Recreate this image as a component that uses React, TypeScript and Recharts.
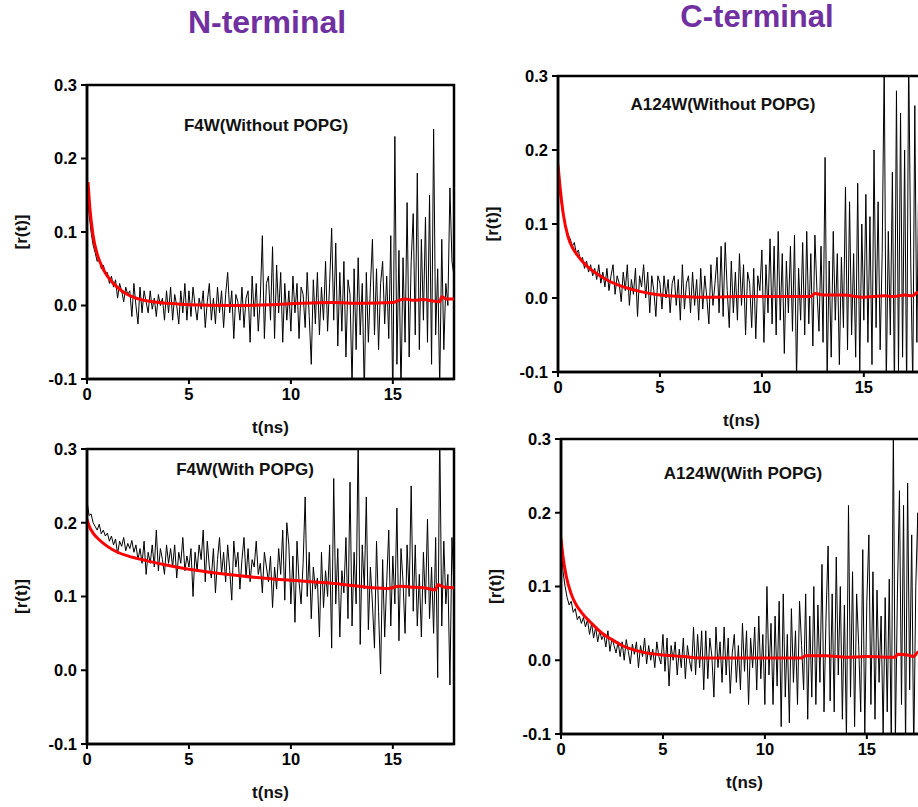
import { LineChart, Line, XAxis, YAxis, ReferenceArea } from 'recharts'

const STEP = 0.1

const f4wWithoutNoise = [
  0.165, 0.125, 0.1, 0.082, 0.072, 0.06, 0.065, 0.05, 0.055, 0.045,
  0.045, 0.03, 0.04, 0.025, 0.035, 0.01, 0.03, 0.02, 0.005, 0.025,
  0.015, 0.02, -0.015, 0.03, 0.0, -0.025, 0.025, -0.01, 0.02, 0.005,
  -0.01, 0.02, -0.005, 0.01, -0.015, 0.015, 0.0, 0.01, -0.02, 0.02,
  -0.01, 0.025, -0.02, 0.015, 0.0, -0.025, 0.02, -0.01, 0.03, -0.02,
  0.02, -0.015, 0.025, 0.0, -0.02, 0.01, -0.005, 0.02, -0.03, 0.005,
  0.03, -0.02, 0.01, -0.025, 0.025, -0.01, 0.02, -0.03, 0.015, 0.045,
  -0.01, 0.02, -0.045, 0.015, 0.005, -0.02, 0.025, -0.03, 0.01, 0.02,
  -0.05, 0.04, -0.015, 0.03, -0.035, 0.01, 0.095, -0.045, 0.03, 0.04,
  -0.02, 0.08, -0.045, 0.055, -0.01, 0.045, -0.05, 0.03, -0.02, 0.02,
  -0.035, 0.04, -0.01, 0.03, -0.045, 0.025, 0.015, -0.03, 0.045, -0.015,
  -0.08, 0.035, -0.025, 0.045, -0.04, 0.025, -0.02, 0.06, -0.035, 0.03,
  0.105, -0.02, 0.085, -0.055, 0.045, -0.035, 0.06, -0.07, 0.035, 0.015,
  -0.11, 0.05, -0.06, 0.065, -0.04, 0.03, -0.12, 0.045, -0.05, 0.025,
  0.09, -0.04, 0.05, -0.06, 0.03, 0.06, -0.025, 0.04, -0.045, 0.095,
  -0.14, 0.23, -0.08, 0.075, -0.12, 0.065, -0.05, 0.14, -0.07, 0.06,
  0.125, -0.04, 0.18, -0.06, 0.09, -0.02, 0.12, -0.05, 0.15, -0.08,
  0.24, -0.04, 0.05, -0.11, 0.09, -0.06, 0.03, 0.0, 0.16, 0.06,
  0.04,
]
const f4wWithoutFitT = [0.05, 0.15, 0.3, 0.5, 0.75, 1, 1.4, 1.8, 2.3, 3, 4, 5, 7, 9, 10.5, 12, 13.5, 15, 15.3, 15.6, 16, 16.5, 17, 17.3, 17.4, 17.6, 18]
const f4wWithoutFitR = [0.168, 0.13, 0.095, 0.07, 0.052, 0.04, 0.027, 0.018, 0.011, 0.006, 0.003, 0.001, 0.0, 0.001, 0.003, 0.004, 0.003, 0.004, 0.007, 0.009, 0.007, 0.008, 0.006, 0.005, 0.012, 0.009, 0.009]

const a124wWithoutNoise = [
  0.18, 0.14, 0.12, 0.105, 0.095, 0.085, 0.08, 0.07, 0.075, 0.06,
  0.065, 0.05, 0.055, 0.04, 0.05, 0.035, 0.045, 0.03, 0.04, 0.025,
  0.045, 0.02, 0.035, 0.015, 0.04, 0.01, 0.03, 0.045, 0.005, 0.03,
  0.02, -0.005, 0.035, 0.01, 0.045, -0.01, 0.025, 0.005, 0.04, -0.025,
  0.03, 0.015, 0.045, 0.0, 0.035, -0.02, 0.03, 0.01, -0.025, 0.03,
  0.02, -0.015, 0.03, 0.0, 0.025, -0.02, 0.02, 0.03, -0.01, 0.025,
  -0.03, 0.045, -0.015, 0.02, 0.03, -0.02, 0.035, -0.01, 0.025, -0.03,
  0.04, -0.015, 0.03, 0.0, -0.035, 0.045, -0.01, 0.02, 0.055, -0.02,
  0.07, -0.025, 0.075, 0.01, -0.04, 0.05, -0.02, 0.035, -0.03, 0.06,
  -0.01, 0.045, -0.05, 0.035, 0.02, -0.04, 0.04, -0.055, 0.03, 0.01,
  0.065, -0.06, 0.045, -0.02, 0.08, -0.035, 0.07, -0.05, 0.09, -0.03,
  0.06, -0.075, 0.05, -0.02, 0.07, -0.045, 0.085, -0.11, 0.04, -0.03,
  0.075, -0.05, 0.09, -0.035, 0.06, -0.065, 0.085, 0.01, -0.045, 0.07,
  -0.06, 0.19, -0.11, 0.05, -0.08, 0.09, -0.03, 0.06, -0.09, 0.055,
  -0.04, 0.15, -0.07, 0.13, -0.05, 0.06, -0.08, 0.155, -0.1, 0.1,
  -0.03, 0.14, -0.06, 0.11, -0.09, 0.2, -0.04, 0.13, -0.07, 0.06,
  0.32, -0.12, 0.09, -0.05, 0.17, -0.13, 0.28, -0.1, 0.25, -0.08,
  0.2, -0.13, 0.33, 0.05, -0.12, 0.26, -0.06, 0.18, -0.1, 0.21,
  0.07,
]
const a124wWithoutFitT = [0, 0.1, 0.25, 0.5, 0.75, 1, 1.5, 2, 2.5, 3, 4, 5, 6, 7, 9, 11, 12.4, 12.6, 13, 14, 15, 15.5, 16, 16.5, 17, 17.4, 17.6, 18]
const a124wWithoutFitR = [0.18, 0.15, 0.115, 0.082, 0.066, 0.056, 0.041, 0.031, 0.023, 0.017, 0.009, 0.004, 0.002, 0.001, 0.002, 0.002, 0.002, 0.006, 0.004, 0.004, 0.001, 0.002, 0.003, 0.002, 0.004, 0.003, 0.007, 0.005]

const f4wWithNoise = [
  0.23, 0.21, 0.212, 0.2, 0.195, 0.19, 0.198, 0.185, 0.19, 0.182,
  0.186, 0.175, 0.182, 0.17, 0.178, 0.158, 0.175, 0.168, 0.18, 0.162,
  0.172, 0.165, 0.176, 0.16, 0.17, 0.15, 0.165, 0.145, 0.175, 0.13,
  0.16, 0.145, 0.17, 0.14, 0.19, 0.135, 0.165, 0.15, 0.13, 0.17,
  0.145, 0.165, 0.14, 0.17, 0.125, 0.16, 0.145, 0.18, 0.135, 0.155,
  0.14, 0.165, 0.1, 0.16, 0.135, 0.17, 0.15, 0.19, 0.12, 0.175,
  0.14, 0.125, 0.165, 0.105, 0.15, 0.18, 0.13, 0.16, 0.12, 0.17,
  0.135, 0.095, 0.175, 0.14, 0.16, 0.11, 0.15, 0.18, 0.125, 0.165,
  0.12, 0.15, 0.14, 0.175, 0.13, 0.145, 0.105, 0.16, 0.14, 0.12,
  0.155, 0.085, 0.14, 0.11, 0.165, 0.13, 0.19, 0.095, 0.2, 0.17,
  0.09, 0.155, 0.065, 0.175, 0.12, 0.09, 0.145, 0.235, 0.1, 0.16,
  0.07, 0.14, 0.11, 0.125, 0.045, 0.16, 0.085, 0.135, 0.1, 0.17,
  0.03, 0.26, 0.09, 0.165, 0.045, 0.135, 0.105, 0.18, 0.07, 0.255,
  0.06, 0.16, 0.09, 0.32, 0.035, 0.17, 0.11, 0.235, 0.055, 0.14,
  0.09, 0.03, 0.175, 0.08, -0.005, 0.15, 0.045, 0.12, 0.19, 0.06,
  0.155, 0.09, 0.22, 0.04, 0.165, 0.12, 0.05, 0.17, 0.1, 0.25,
  0.08, 0.17, 0.06, 0.13, 0.045, 0.16, 0.09, 0.205, 0.07, 0.14,
  0.05, 0.18, -0.01, 0.33, 0.06, 0.175, 0.09, 0.13, -0.02, 0.18,
  0.11,
]
const f4wWithFitT = [0, 0.1, 0.3, 0.6, 1, 1.5, 2, 3, 4, 5, 6, 7.5, 9, 10, 11, 12, 13, 14, 14.8, 15.3, 15.8, 16.5, 17.1, 17.2, 17.5, 18]
const f4wWithFitR = [0.205, 0.196, 0.186, 0.177, 0.168, 0.16, 0.155, 0.148, 0.142, 0.137, 0.133, 0.128, 0.124, 0.122, 0.12, 0.118, 0.115, 0.112, 0.111, 0.114, 0.113, 0.112, 0.109, 0.116, 0.113, 0.112]

const a124wWithNoise = [
  0.165, 0.12, 0.1, 0.085, 0.075, 0.08, 0.065, 0.07, 0.055, 0.06,
  0.05, 0.058, 0.045, 0.055, 0.035, 0.05, 0.03, 0.045, 0.025, 0.04,
  0.028, 0.035, 0.018, 0.04, 0.012, 0.03, 0.02, 0.01, 0.025, 0.005,
  0.025, 0.0, 0.028, 0.012, -0.005, 0.022, 0.008, 0.025, -0.01, 0.02,
  0.005, 0.03, -0.005, 0.02, 0.0, 0.015, -0.01, 0.025, 0.005, -0.005,
  0.035, -0.015, 0.03, -0.035, 0.02, 0.0, 0.025, -0.02, 0.015, -0.01,
  0.03, -0.025, 0.02, 0.0, -0.015, 0.045, -0.02, 0.035, -0.01, 0.04,
  -0.04, 0.04, -0.025, 0.03, 0.005, -0.05, 0.045, -0.01, 0.025, -0.03,
  0.045, -0.02, 0.03, -0.045, 0.01, 0.035, -0.03, 0.02, -0.04, 0.05,
  -0.015, 0.04, -0.06, 0.03, -0.01, 0.045, -0.04, 0.06, -0.025, 0.035,
  -0.06, 0.1, -0.02, 0.05, -0.06, 0.06, -0.035, 0.08, -0.09, 0.09,
  -0.05, 0.035, -0.085, 0.07, -0.03, 0.04, -0.06, 0.08, 0.02, -0.04,
  0.09, -0.08, 0.06, -0.05, 0.1, -0.06, 0.075, -0.03, 0.13, -0.07,
  0.06, 0.155, -0.055, 0.09, -0.07, 0.14, -0.02, 0.1, -0.08, 0.075,
  -0.11, 0.21, -0.05, 0.12, -0.09, 0.09, 0.02, -0.07, 0.15, -0.1,
  0.08, 0.17, -0.06, 0.12, -0.08, 0.095, -0.03, 0.06, -0.1, 0.085,
  -0.07, 0.11, -0.12, 0.32, -0.11, 0.09, 0.23, -0.06, 0.21, -0.12,
  0.24, -0.04, 0.17, -0.13, 0.1, 0.2, -0.08, 0.15, -0.1, 0.12,
  0.05,
]
const a124wWithFitT = [0, 0.1, 0.25, 0.5, 0.75, 1, 1.5, 2, 2.5, 3, 4, 5, 6, 7, 9, 11.8, 12, 13, 14, 15, 16.4, 16.5, 17, 17.3, 17.5, 18]
const a124wWithFitR = [0.165, 0.14, 0.115, 0.09, 0.075, 0.065, 0.05, 0.037, 0.028, 0.02, 0.011, 0.007, 0.005, 0.003, 0.003, 0.003, 0.006, 0.006, 0.004, 0.005, 0.004, 0.008, 0.007, 0.005, 0.011, 0.011]

const xTicks = [0, 5, 10, 15]
const yTicks = [-0.1, 0, 0.1, 0.2, 0.3]

const FONT = 'Arial, "Liberation Sans", sans-serif'

const sampled = (vals: number[]) => vals.map((r, i) => ({ t: +(i * STEP).toFixed(2), r }))
const paired = (ts: number[], rs: number[]) => ts.map((t, i) => ({ t, r: rs[i] }))

// ─── one r(t) panel ──────────────────────────────────────────────────────────
const PLOT_W = 367
const M = { top: 40, right: 20, bottom: 20, left: 27 }
const Y_AXIS_W = 60
const X_AXIS_H = 50

interface PanelProps {
  plotX: number // absolute left of the plot frame
  plotY: number // absolute top of the plot frame
  plotH: number
  title: string
  titleX: number
  titleY: number
  noise: number[]
  fitT: number[]
  fitR: number[]
}

function Panel({ plotX, plotY, plotH, title, titleX, titleY, noise, fitT, fitR }: PanelProps) {
  const left = M.left + Y_AXIS_W
  const width = left + PLOT_W + M.right
  const height = M.top + plotH + X_AXIS_H + M.bottom
  const tick = { fill: '#000', fontSize: 16.5, fontWeight: 700, fontFamily: FONT }

  return (
    <div style={{ position: 'absolute', left: plotX - left, top: plotY - M.top }}>
      <LineChart width={width} height={height} margin={M}>
        <XAxis
          type="number"
          dataKey="t"
          domain={[0, 18]}
          ticks={xTicks}
          allowDataOverflow
          height={X_AXIS_H}
          tickSize={5}
          tickMargin={4}
          axisLine={{ stroke: '#000', strokeWidth: 2.5 }}
          tickLine={{ stroke: '#000', strokeWidth: 2 }}
          tick={tick}
        />
        <YAxis
          type="number"
          domain={[-0.1, 0.3]}
          ticks={yTicks}
          allowDataOverflow
          width={Y_AXIS_W}
          tickSize={6}
          tickMargin={4}
          tickFormatter={(v: number) => v.toFixed(1)}
          axisLine={{ stroke: '#000', strokeWidth: 2.5 }}
          tickLine={{ stroke: '#000', strokeWidth: 2 }}
          tick={tick}
        />
        <Line
          data={sampled(noise)}
          dataKey="r"
          type="linear"
          stroke="#000"
          strokeWidth={1}
          dot={false}
          isAnimationActive={false}
        />
        <Line
          data={paired(fitT, fitR)}
          dataKey="r"
          type="monotone"
          stroke="#ff0000"
          strokeWidth={3}
          dot={false}
          isAnimationActive={false}
        />
        <ReferenceArea x1={0} x2={18} y1={-0.1} y2={0.3} fill="none" stroke="#000" strokeWidth={2.5} />
        <text x={titleX} y={titleY} textAnchor="middle" fontFamily={FONT} fontWeight={700} fontSize={17} fill="#111">
          {title}
        </text>
        <text
          x={21}
          y={M.top + plotH / 2}
          transform={`rotate(-90 21 ${M.top + plotH / 2})`}
          textAnchor="middle"
          dy="0.35em"
          fontFamily={FONT}
          fontWeight={700}
          fontSize={17}
          fill="#111"
        >
          [r(t)]
        </text>
        <text
          x={left + PLOT_W / 2}
          y={M.top + plotH + 48}
          textAnchor="middle"
          dy="0.35em"
          fontFamily={FONT}
          fontWeight={700}
          fontSize={17}
          fill="#111"
        >
          t(ns)
        </text>
      </LineChart>
    </div>
  )
}

export default function App() {
  return (
    <div
      style={{
        position: 'absolute',
        left: 0,
        top: 0,
        width: 918,
        height: 807,
        overflow: 'hidden',
        background: '#fff',
      }}
    >
      <svg width={918} height={60} style={{ position: 'absolute', left: 0, top: 0 }}>
        <text x={267} y={33} textAnchor="middle" fontFamily={FONT} fontWeight={700} fontSize={32} fill="#7030a0">
          N-terminal
        </text>
        <text x={757} y={27} textAnchor="middle" fontFamily={FONT} fontWeight={700} fontSize={31} fill="#7030a0">
          C-terminal
        </text>
      </svg>
      <Panel
        plotX={87}
        plotY={85}
        plotH={294}
        title="F4W(Without POPG)"
        titleX={266}
        titleY={86}
        noise={f4wWithoutNoise}
        fitT={f4wWithoutFitT}
        fitR={f4wWithoutFitR}
      />
      <Panel
        plotX={558}
        plotY={76}
        plotH={296}
        title="A124W(Without POPG)"
        titleX={252}
        titleY={74}
        noise={a124wWithoutNoise}
        fitT={a124wWithoutFitT}
        fitR={a124wWithoutFitR}
      />
      <Panel
        plotX={87}
        plotY={449}
        plotH={295}
        title="F4W(With POPG)"
        titleX={245}
        titleY={66}
        noise={f4wWithNoise}
        fitT={f4wWithFitT}
        fitR={f4wWithFitR}
      />
      <Panel
        plotX={561}
        plotY={439}
        plotH={295}
        title="A124W(With POPG)"
        titleX={269}
        titleY={80}
        noise={a124wWithNoise}
        fitT={a124wWithFitT}
        fitR={a124wWithFitR}
      />
    </div>
  )
}
